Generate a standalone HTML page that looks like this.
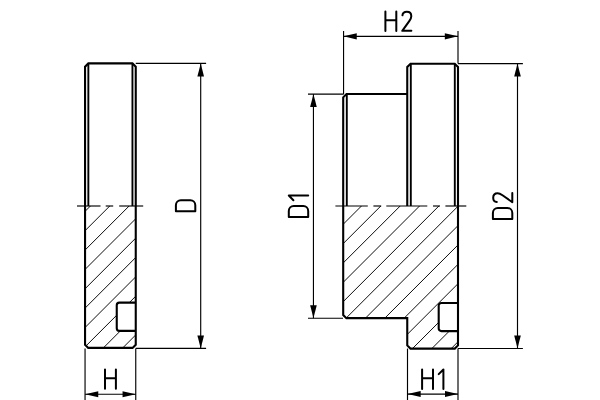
<!DOCTYPE html>
<html><head><meta charset="utf-8"><title>Drawing</title>
<style>html,body{margin:0;padding:0;background:#fff;font-family:"Liberation Sans",sans-serif;}svg{display:block}</style>
</head><body>
<svg width="600" height="400" viewBox="0 0 600 400" fill="none" stroke="#000">
<rect x="0" y="0" width="600" height="400" fill="#fff" stroke="none"/>
<path d="M85.05,344.7 V66.7 L88.35,63.4 H132.45 L135.75,66.7 V344.7 L132.55,347.9 H88.25 Z" stroke-width="2.1" stroke-linejoin="miter"/>
<line x1="88.35" y1="63.4" x2="88.35" y2="206.0" stroke-width="1.9" />
<line x1="132.45" y1="63.4" x2="132.45" y2="206.0" stroke-width="1.9" />
<path d="M135.75,302.6 H119.35 A2.6,2.6 0 0 0 116.75,305.2 V328.3 A2.6,2.6 0 0 0 119.35,330.9 H135.75" stroke-width="2.1" />
<clipPath id="c1"><path clip-rule="evenodd" d="M85.05,206.0 H135.75 V344.7 L132.55,347.9 H88.25 L85.05,344.7 Z M135.75,302.6 H119.35 A2.6,2.6 0 0 0 116.75,305.2 V328.3 A2.6,2.6 0 0 0 119.35,330.9 H135.75 Z"/></clipPath>
<path d="M80.05,216.35 L140.75,155.65 M80.05,235.71 L140.75,175.01 M80.05,255.07 L140.75,194.37 M80.05,274.43 L140.75,213.73 M80.05,293.79 L140.75,233.09 M80.05,313.15 L140.75,252.45 M80.05,332.51 L140.75,271.81 M80.05,351.87 L140.75,291.17 M80.05,371.23 L140.75,310.53 M80.05,390.59 L140.75,329.89 M80.05,409.95 L140.75,349.25 M80.05,429.31 L140.75,368.61" stroke-width="0.95" clip-path="url(#c1)"/>
<line x1="77" y1="206.0" x2="100.5" y2="206.0" stroke-width="1.15" />
<line x1="105.7" y1="206.0" x2="113.2" y2="206.0" stroke-width="1.15" />
<line x1="119.2" y1="206.0" x2="143.2" y2="206.0" stroke-width="1.15" />
<line x1="85.05" y1="348.6" x2="85.05" y2="400" stroke-width="1.15" />
<line x1="135.75" y1="348.6" x2="135.75" y2="400" stroke-width="1.15" />
<line x1="85.05" y1="394.25" x2="135.75" y2="394.25" stroke-width="1.15" />
<polygon points="85.05,394.25 98.25,391.25 98.25,397.25" fill="#000" stroke="none"/>
<polygon points="135.75,394.25 122.55,397.25 122.55,391.25" fill="#000" stroke="none"/>
<line x1="135.75" y1="63.4" x2="206.1" y2="63.4" stroke-width="1.15" />
<line x1="135.75" y1="348.4" x2="206.1" y2="348.4" stroke-width="1.15" />
<line x1="200.7" y1="63.4" x2="200.7" y2="348.4" stroke-width="1.15" />
<polygon points="200.7,63.4 204.0,76.4 197.4,76.4" fill="#000" stroke="none"/>
<polygon points="200.7,348.4 197.4,335.4 204.0,335.4" fill="#000" stroke="none"/>
<path d="M0,0 V-19.4 M10.9,0 V-19.4 M0,-10.67 H10.9" transform="translate(105.0,388.8)" stroke-width="2.0" stroke-linecap="round" stroke-linejoin="round"/>
<path d="M0,0 V-19.4 H6.0 A4.9,4.9 0 0 1 10.9,-14.5 V-4.9 A4.9,4.9 0 0 1 6.0,0 Z" transform="translate(195.3,211.2) rotate(-90)" stroke-width="2.0" stroke-linecap="round" stroke-linejoin="round"/>
<path d="M343.2,206.0 V97.35 L346.5,94.05 H407.25" stroke-width="2.1" />
<path d="M407.25,206.0 V67.0 L410.55,63.7 H454.7 L458.0,67.0 V206.0" stroke-width="2.1" />
<line x1="346.8" y1="94.05" x2="346.8" y2="206.0" stroke-width="1.9" />
<line x1="410.8" y1="63.7" x2="410.8" y2="206.0" stroke-width="1.9" />
<line x1="454.8" y1="63.7" x2="454.8" y2="206.0" stroke-width="1.9" />
<path d="M343.2,206.0 V314.95 L346.4,318.15 H407.25 V345.4 L410.45,348.6 H454.8 L458.0,345.4 V206.0" stroke-width="2.1" />
<path d="M458.0,303.0 H441.3 A2.6,2.6 0 0 0 438.7,305.6 V328.5 A2.6,2.6 0 0 0 441.3,331.1 H458.0" stroke-width="2.1" />
<clipPath id="c2"><path clip-rule="evenodd" d="M343.2,206.0 H458.0 V345.4 L454.8,348.6 H410.45 L407.25,345.4 V318.15 H346.4 L343.2,314.95 Z M458.0,303.0 H441.3 A2.6,2.6 0 0 0 438.7,305.6 V328.5 A2.6,2.6 0 0 0 441.3,331.1 H458.0 Z"/></clipPath>
<path d="M338.2,209.88 L463.0,85.08 M338.2,229.24 L463.0,104.44 M338.2,248.6 L463.0,123.8 M338.2,267.96 L463.0,143.16 M338.2,287.32 L463.0,162.52 M338.2,306.68 L463.0,181.88 M338.2,326.04 L463.0,201.24 M338.2,345.4 L463.0,220.6 M338.2,364.76 L463.0,239.96 M338.2,384.12 L463.0,259.32 M338.2,403.48 L463.0,278.68 M338.2,422.84 L463.0,298.04 M338.2,442.2 L463.0,317.4 M338.2,461.56 L463.0,336.76 M338.2,480.92 L463.0,356.12" stroke-width="0.95" clip-path="url(#c2)"/>
<line x1="335.4" y1="206.0" x2="367.8" y2="206.0" stroke-width="1.15" />
<line x1="373.4" y1="206.0" x2="381.2" y2="206.0" stroke-width="1.15" />
<line x1="386.3" y1="206.0" x2="427.3" y2="206.0" stroke-width="1.15" />
<line x1="433" y1="206.0" x2="440" y2="206.0" stroke-width="1.15" />
<line x1="445.4" y1="206.0" x2="466.3" y2="206.0" stroke-width="1.15" />
<line x1="343.55" y1="31" x2="343.55" y2="94.2" stroke-width="1.15" />
<line x1="458.0" y1="31" x2="458.0" y2="63.5" stroke-width="1.15" />
<line x1="343.55" y1="36.3" x2="458.0" y2="36.3" stroke-width="1.15" />
<polygon points="343.55,36.3 356.75,33.15 356.75,39.45" fill="#000" stroke="none"/>
<polygon points="458.0,36.3 444.8,39.45 444.8,33.15" fill="#000" stroke="none"/>
<line x1="308" y1="94.1" x2="343.6" y2="94.1" stroke-width="1.15" />
<line x1="308" y1="318.2" x2="343" y2="318.2" stroke-width="1.15" />
<line x1="313.45" y1="94.1" x2="313.45" y2="318.2" stroke-width="1.15" />
<polygon points="313.45,94.1 316.75,107.1 310.15,107.1" fill="#000" stroke="none"/>
<polygon points="313.45,318.2 310.15,305.2 316.75,305.2" fill="#000" stroke="none"/>
<line x1="458.0" y1="63.6" x2="522.9" y2="63.6" stroke-width="1.15" />
<line x1="458.0" y1="348.45" x2="522.9" y2="348.45" stroke-width="1.15" />
<line x1="517.5" y1="63.6" x2="517.5" y2="348.45" stroke-width="1.15" />
<polygon points="517.5,63.6 520.8,76.6 514.2,76.6" fill="#000" stroke="none"/>
<polygon points="517.5,348.45 514.2,335.45 520.8,335.45" fill="#000" stroke="none"/>
<line x1="407.5" y1="348.6" x2="407.5" y2="400" stroke-width="1.15" />
<line x1="458.0" y1="348.6" x2="458.0" y2="400" stroke-width="1.15" />
<line x1="407.5" y1="394.1" x2="458.0" y2="394.1" stroke-width="1.15" />
<polygon points="407.5,394.1 420.7,391.1 420.7,397.1" fill="#000" stroke="none"/>
<polygon points="458.0,394.1 445.0,397.1 445.0,391.1" fill="#000" stroke="none"/>
<path d="M0,0 V-19.4 M10.9,0 V-19.4 M0,-10.67 H10.9" transform="translate(385.4,31.0)" stroke-width="2.0" stroke-linecap="round" stroke-linejoin="round"/>
<path d="M0.2,-15.5 C0.4,-17.9 2.2,-19.1 4.55,-19.1 C7.2,-19.1 9.05,-17.4 9.05,-14.7 C9.05,-12.9 8.2,-11.5 7.0,-9.8 L0,0 H9.1" transform="translate(402.25,30.85)" stroke-width="2.0" stroke-linecap="round" stroke-linejoin="round"/>
<path d="M0,0 V-19.4 M10.9,0 V-19.4 M0,-10.67 H10.9" transform="translate(422.1,388.9)" stroke-width="2.0" stroke-linecap="round" stroke-linejoin="round"/>
<path d="M0,-14.8 L4.7,-19.4 V0" transform="translate(438.7,388.9)" stroke-width="2.0" stroke-linecap="round" stroke-linejoin="round"/>
<path d="M0,0 V-19.4 H6.0 A4.9,4.9 0 0 1 10.9,-14.5 V-4.9 A4.9,4.9 0 0 1 6.0,0 Z" transform="translate(308.2,216.9) rotate(-90)" stroke-width="2.0" stroke-linecap="round" stroke-linejoin="round"/>
<path d="M0,-14.8 L4.7,-19.4 V0" transform="translate(308.2,200.2) rotate(-90)" stroke-width="2.0" stroke-linecap="round" stroke-linejoin="round"/>
<path d="M0,0 V-19.4 H6.0 A4.9,4.9 0 0 1 10.9,-14.5 V-4.9 A4.9,4.9 0 0 1 6.0,0 Z" transform="translate(512.3,218.9) rotate(-90)" stroke-width="2.0" stroke-linecap="round" stroke-linejoin="round"/>
<path d="M0.2,-15.5 C0.4,-17.9 2.2,-19.1 4.55,-19.1 C7.2,-19.1 9.05,-17.4 9.05,-14.7 C9.05,-12.9 8.2,-11.5 7.0,-9.8 L0,0 H9.1" transform="translate(512.3,202.2) rotate(-90)" stroke-width="2.0" stroke-linecap="round" stroke-linejoin="round"/>
</svg>
</body></html>
